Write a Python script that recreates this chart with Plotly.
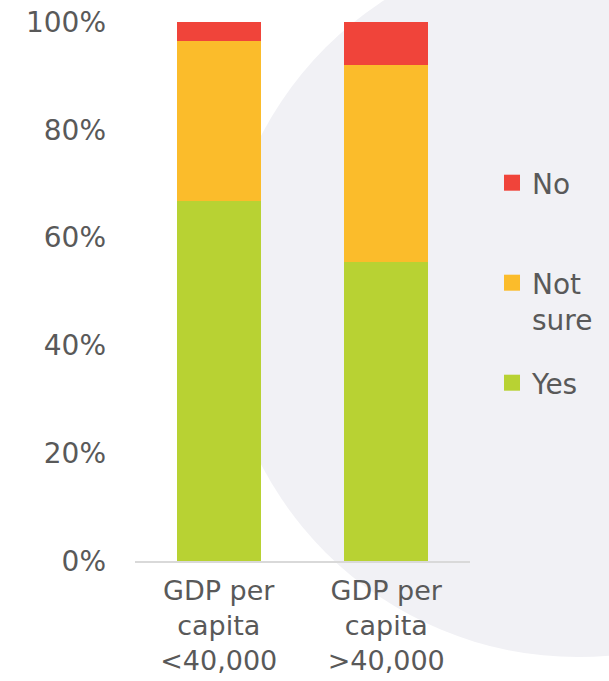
import plotly.graph_objects as go

categories = ["GDP per<br>capita<br><40,000", "GDP per<br>capita<br>>40,000"]
yes_vals = [66.8, 55.5]
not_sure_vals = [29.7, 36.5]
no_vals = [3.5, 8.0]

series = [
    ("Yes", yes_vals, "#b8d233", "legend3"),
    ("Not<br>sure", not_sure_vals, "#fbbc2b", "legend2"),
    ("No", no_vals, "#f0443a", "legend"),
]

fig = go.Figure()
for name, vals, color, lg in series:
    fig.add_trace(go.Bar(
        x=categories, y=vals, name=name, showlegend=False,
        marker=dict(color=color, line=dict(width=0)),
        width=0.5,
    ))
    # legend entry with a larger square swatch
    fig.add_trace(go.Scatter(
        x=[None], y=[None], mode="markers", name=name, legend=lg,
        marker=dict(symbol="square", size=16, color=color),
    ))

W, H = 609, 681
PL, PR, PT, PB = 135, 470, 22, 561  # plot area in page pixels
def px(x): return (x - PL) / (PR - PL)
def py(y): return (PB - y) / (PB - PT)

cx, cy, r = 578, 300, 357
fig.add_shape(type="circle", xref="paper", yref="paper",
              x0=px(cx - r), x1=px(cx + r), y0=py(cy + r), y1=py(cy - r),
              fillcolor="#f1f1f5", line=dict(width=0), layer="below")

FS = 28
leg_common = dict(xanchor="left", bgcolor="rgba(0,0,0,0)",
                  font=dict(size=FS, color="#595959"), itemwidth=30,
                  valign="top")
fig.update_layout(
    width=W, height=H,
    margin=dict(l=PL, r=W - PR, t=PT, b=H - PB, autoexpand=False),
    barmode="stack",
    paper_bgcolor="white",
    plot_bgcolor="rgba(0,0,0,0)",
    font=dict(family="DejaVu Sans", size=FS, color="#595959"),
    showlegend=True,
    legend=dict(x=px(492), y=py(183), yanchor="middle", **leg_common),
    legend2=dict(x=px(492), y=py(258), yanchor="top", **leg_common),
    legend3=dict(x=px(492), y=py(383), yanchor="middle", **leg_common),
)
fig.update_yaxes(range=[0, 100], tickvals=[0, 20, 40, 60, 80, 100],
                 ticktext=["0%", "20%", "40%", "60%", "80%", "100%"],
                 showgrid=False, zeroline=False, showline=False,
                 ticklabelstandoff=28, automargin=False,
                 ticklabeloverflow="allow")
fig.update_xaxes(range=[-0.5, 1.5], showgrid=False, showline=True,
                 linecolor="#d9d9d9", linewidth=1.5, ticks="",
                 ticklabelstandoff=5, automargin=False,
                 ticklabeloverflow="allow", tickfont=dict(size=27))

fig.write_html("out.html", config={"displayModeBar": False},
               post_script="document.body.style.margin='0';document.body.style.overflow='hidden';")
